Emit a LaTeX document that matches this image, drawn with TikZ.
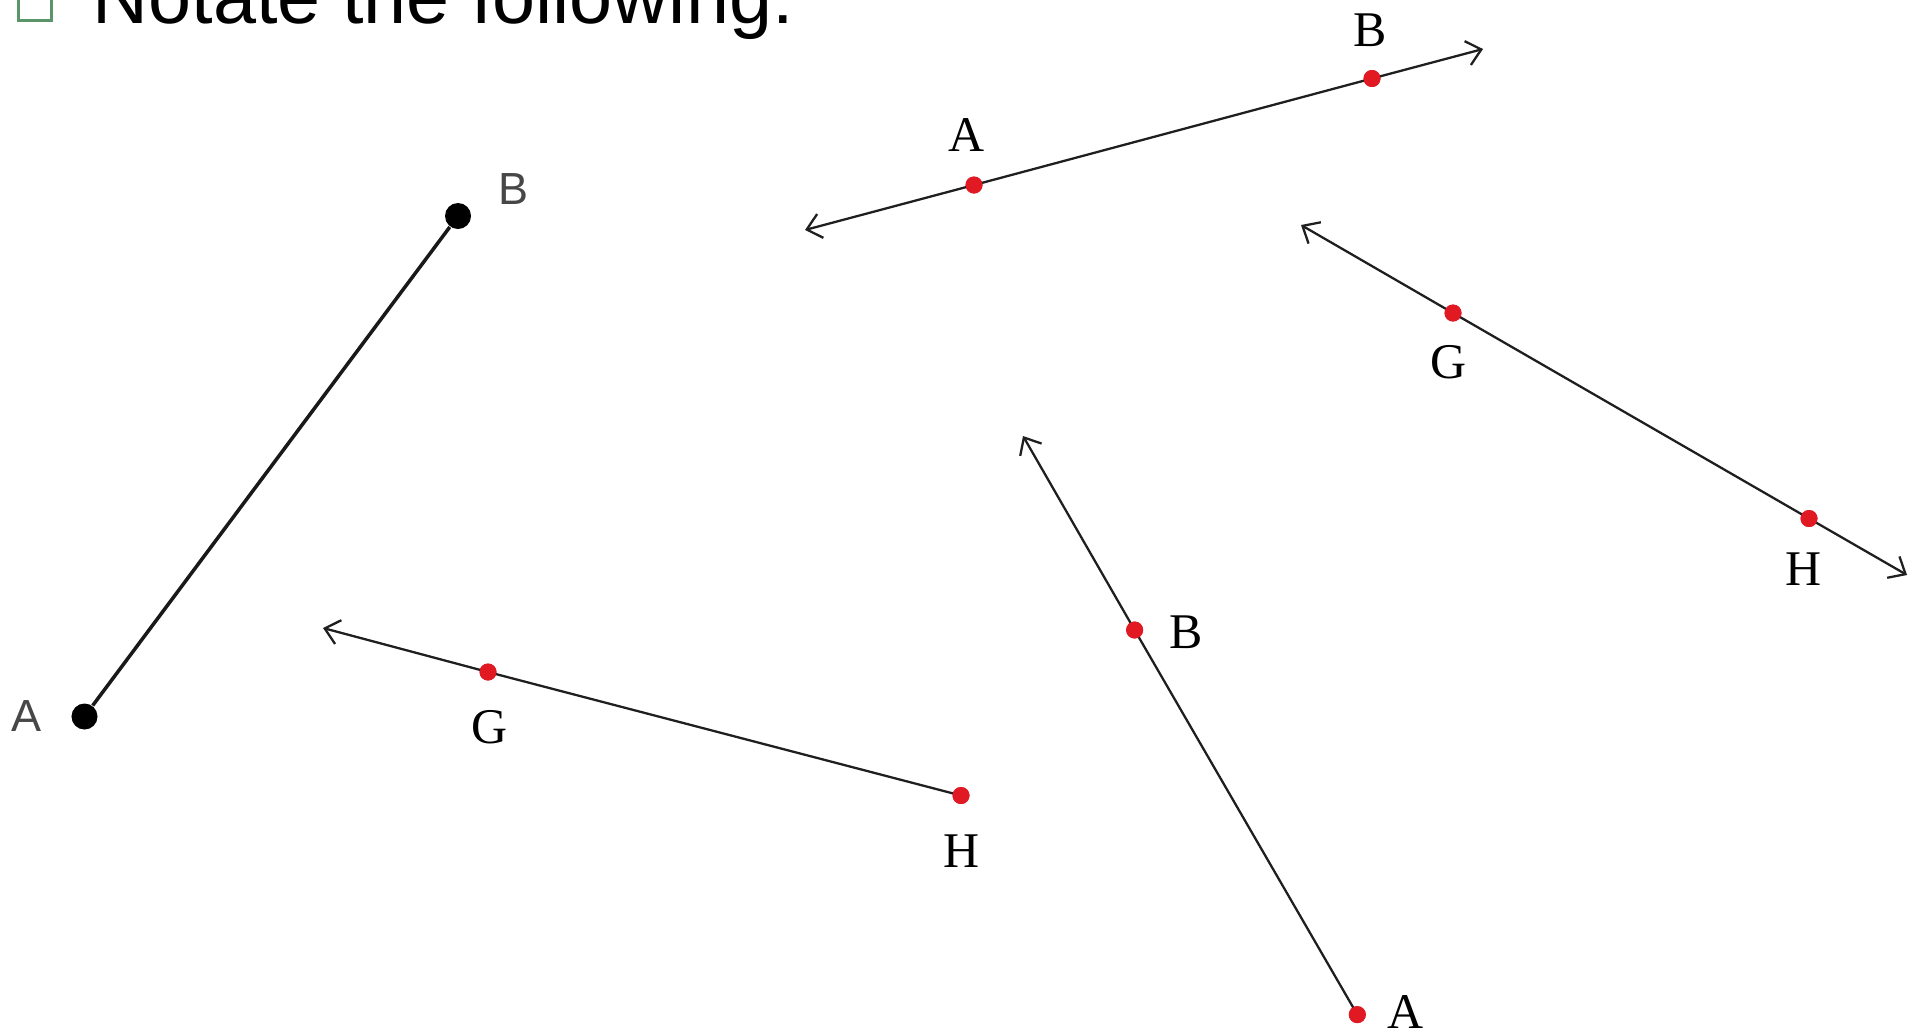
\documentclass[tikz,border=0pt]{standalone}
\usepackage{fontspec}
\setmainfont{Liberation Serif}
\newfontfamily\sansf{Liberation Sans}
\usetikzlibrary{arrows.meta}
\definecolor{ptred}{RGB}{225,25,35}
\definecolor{bulletgreen}{RGB}{90,150,105}
\begin{document}
\begin{tikzpicture}[x=0.01cm,y=-0.01cm,
  tip/.tip={Straight Barb[length=4pt,width=7pt]},
  segline/.style={line width=1pt, draw=black!90},
  fineline/.style={line width=0.65pt, draw=black!88},
  bdot/.style={circle, fill=black, inner sep=0pt, minimum size=0.26cm},
  rdot/.style={circle, fill=ptred, inner sep=0pt, minimum size=0.17cm},
  slab/.style={font=\sansf\fontsize{12.8}{14}\selectfont, text=black!72, inner sep=0pt, text height=9.2pt, text depth=0pt},
  rlab/.style={font=\fontsize{14.2}{16}\selectfont, inner sep=0pt, text height=9.4pt, text depth=0pt},
  bulletsq/.style={draw=bulletgreen, line width=1pt, minimum size=0.33cm, inner sep=0pt}
]
\useasboundingbox (0,0) rectangle (1919,1033);

% title
\node[bulletsq] (bullet) at (35,4) {};
\node[anchor=base west, font=\sansf\fontsize{22}{26}\selectfont, inner sep=0pt] (title) at (92,23) {Notate the following:};

% segment AB
\node[bdot] (sA) at (84.5,716.5) {};
\node[bdot] (sB) at (458,216) {};
\draw[segline] (sA) -- (sB);
\node[slab] (sAl) at (27,715) {A};
\node[slab] (sBl) at (514,188) {B};

% line AB (top)
\coordinate (tL) at (805,230);
\coordinate (tR) at (1483,49);
\node[rdot] (tA) at (974,185) {};
\node[rdot] (tB) at (1372,78.5) {};
\draw[fineline, tip-tip] (tL) -- (tA.center) -- (tB.center) -- (tR);
\node[rdot] at (tA) {};
\node[rdot] at (tB) {};
\node[rlab] (tAl) at (967,135) {A};
\node[rlab] (tBl) at (1370,30) {B};

% line GH (right)
\coordinate (gL) at (1301,225);
\coordinate (gR) at (1907,575);
\node[rdot] (gG) at (1453,313) {};
\node[rdot] (gH) at (1809,518.5) {};
\draw[fineline, tip-tip] (gL) -- (gG.center) -- (gH.center) -- (gR);
\node[rdot] at (gG) {};
\node[rdot] at (gH) {};
\node[rlab] (gGl) at (1449,362) {G};
\node[rlab] (gHl) at (1803,569) {H};

% ray HG (bottom left)
\coordinate (hL) at (323,628);
\node[rdot] (hG) at (488,672) {};
\node[rdot] (hH) at (961,795.5) {};
\draw[fineline, tip-] (hL) -- (hG.center) -- (hH.center);
\node[rdot] at (hG) {};
\node[rdot] at (hH) {};
\node[rlab] (hGl) at (490,727) {G};
\node[rlab] (hHl) at (962,851) {H};

% ray AB (middle)
\coordinate (mT) at (1023,436);
\node[rdot] (mB) at (1134.6,630) {};
\node[rdot] (mA) at (1357.3,1014.6) {};
\draw[fineline, tip-] (mT) -- (mB.center) -- (mA.center);
\node[rdot] at (mB) {};
\node[rdot] at (mA) {};
\node[rlab] (mBl) at (1186,632) {B};
\node[rlab] (mAl) at (1406,1012) {A};
\end{tikzpicture}
\end{document}
